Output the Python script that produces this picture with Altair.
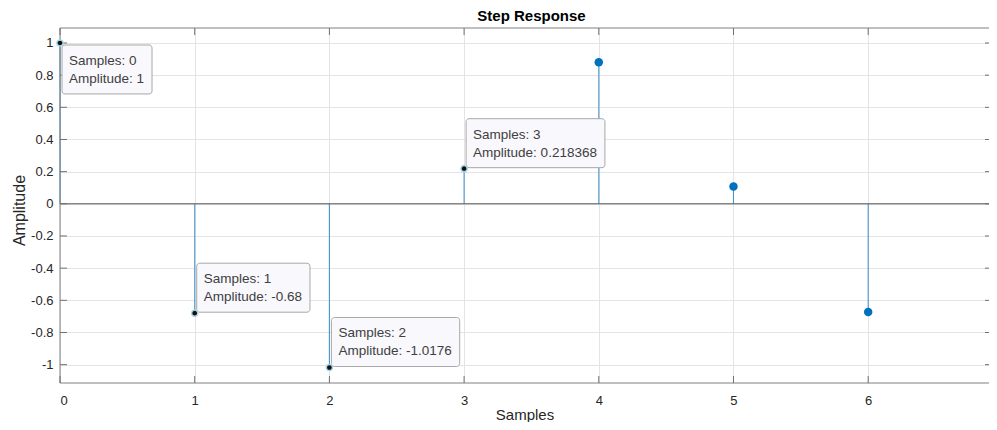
import altair as alt
import pandas as pd

# ---- data ----
samples = [0, 1, 2, 3, 4, 5, 6]
amplitude = [1, -0.68, -1.0176, 0.218368, 0.88, 0.107, -0.673]
tip_samples = [0, 1, 2, 3]
x_ticks = [0, 1, 2, 3, 4, 5, 6]
y_ticks = [-1, -0.8, -0.6, -0.4, -0.2, 0, 0.2, 0.4, 0.6, 0.8, 1]
baseline_value = [0]

# ---- styling ----
W, H = 929, 355
FONT = "Liberation Sans"
TIP_FS = 13.5
BLUE = "#0072BD"
TICK_LEN = 7
FRAME = "#808080"

df = pd.DataFrame({"s": samples, "amp": amplitude})
df["base"] = 0
tips = df[df.s.isin(tip_samples)].copy()
tips["label"] = [f"Samples: {int(s)}\nAmplitude: {a:g}" for s, a in zip(tips.s, tips.amp)]
rest = df[~df.s.isin(tip_samples)]

# approximate Arial glyph widths (em) to size the data-tip boxes
CW = {c: 0.556 for c in "0123456789"}
CW.update({'.': .278, ':': .278, ' ': .278, '-': .333, 'A': .667, 'S': .667,
           'a': .556, 'm': .833, 'p': .556, 'l': .222, 'e': .556, 's': .5,
           'i': .222, 't': .278, 'u': .556, 'd': .556})


def text_w(t):
    return max(sum(CW.get(c, .556) for c in line) for line in t.split("\n")) * TIP_FS


xs = alt.Scale(domain=[0, 6.897], nice=False, zero=False)
ys = alt.Scale(domain=[-1.114, 1.093], nice=False, zero=False)

X = alt.X("s:Q", scale=xs, title="Samples",
          axis=alt.Axis(values=x_ticks, labelExpr="'' + datum.value", labelPadding=11,
                        labelOverlap=False, titleY=36, titleBaseline="alphabetic",
                        titleFontSize=15))
Y = alt.Y("amp:Q", scale=ys, title="Amplitude",
          axis=alt.Axis(values=y_ticks, labelExpr="'' + datum.value", labelPadding=7,
                        labelOverlap=False, labelSeparation=0, titleX=-41, titleY=182,
                        titleBaseline="middle", titleFontSize=16))

stems = alt.Chart(df).mark_rule(color=BLUE, opacity=0.7, strokeWidth=1.1).encode(
    x=X, y=Y, y2=alt.Y2("base"))

zero_line = alt.Chart(pd.DataFrame({"amp": baseline_value})).mark_rule(
    color="#555555", strokeWidth=1).encode(y=Y)

frame_df = pd.DataFrame({"s": [0]})
frame_top = alt.Chart(frame_df).mark_rule(color=FRAME).encode(
    x=alt.value(0), x2=alt.value(W), y=alt.value(0))
frame_bottom = alt.Chart(frame_df).mark_rule(color=FRAME).encode(
    x=alt.value(0), x2=alt.value(W), y=alt.value(H))
frame_left = alt.Chart(frame_df).mark_rule(color=FRAME).encode(
    x=alt.value(0), y=alt.value(0), y2=alt.value(H))

markers = alt.Chart(rest).mark_circle(size=72, color=BLUE, opacity=1).encode(x=X, y=Y)

tip_dot = alt.Chart(tips).mark_point(shape="circle", size=38, filled=True, fill="#111111",
                                     stroke="#a9d6e5", strokeWidth=1.5, opacity=1).encode(x=X, y=Y)

xt = pd.DataFrame({"s": x_ticks})
yt = pd.DataFrame({"amp": y_ticks})
TC = "#707070"
xt_bottom = alt.Chart(xt).mark_rule(color=TC).encode(x=X, y=alt.value(H), y2=alt.value(H - TICK_LEN))
xt_top = alt.Chart(xt).mark_rule(color=TC).encode(x=X, y=alt.value(0), y2=alt.value(TICK_LEN))
yt_left = alt.Chart(yt).mark_rule(color=TC).encode(y=Y, x=alt.value(0), x2=alt.value(TICK_LEN))
yt_right = alt.Chart(yt).mark_rule(color=TC).encode(y=Y, x=alt.value(W), x2=alt.value(W - 4))

tip_layers = []
for _, r in tips.iterrows():
    w = text_w(r.label) + 15
    below = r.amp >= 0.95
    if below:
        top_off, bot_off = 2, 51
    else:
        top_off, bot_off = -50, -1
    one = alt.Chart(tips).transform_filter(alt.datum.s == int(r.s))
    box = one.mark_rect(xOffset=2, x2Offset=2 + w, yOffset=top_off, y2Offset=bot_off,
                        fill="#f8f8fd", stroke="#a8a8a8", strokeWidth=1,
                        cornerRadius=3).encode(x=X, x2=alt.X2("s"), y=Y, y2=alt.Y2("amp"))
    txt = one.mark_text(align="left", baseline="middle", dx=9, dy=top_off + 16,
                        lineBreak="\n", lineHeight=18, fontSize=TIP_FS, font=FONT,
                        color="#404040").encode(x=X, y=Y, text="label:N")
    tip_layers += [box, txt]

chart = alt.layer(
    stems, zero_line, markers, frame_top, frame_bottom, frame_left,
    xt_bottom, xt_top, yt_left, yt_right,
    *tip_layers, tip_dot
).properties(
    width=W, height=H,
    title=alt.TitleParams("Step Response", fontSize=15, fontWeight="bold", font=FONT,
                          color="#000000", offset=4, anchor="middle", frame="group", dx=7),
    autosize=alt.AutoSizeParams(type="none"),
    padding={"left": 52, "top": 20, "right": 0, "bottom": 39},
).configure_view(
    stroke=None
).configure_axis(
    domain=False, ticks=False, tickSize=0, grid=True, gridColor="#e4e4e4", gridWidth=1,
    labelFont=FONT, labelFontSize=13, labelColor="#262626", labelOverlap=False,
    titleFont=FONT, titleFontWeight="normal", titleColor="#262626",
)

chart.save("out.html", embed_options={"renderer": "svg", "actions": False})
